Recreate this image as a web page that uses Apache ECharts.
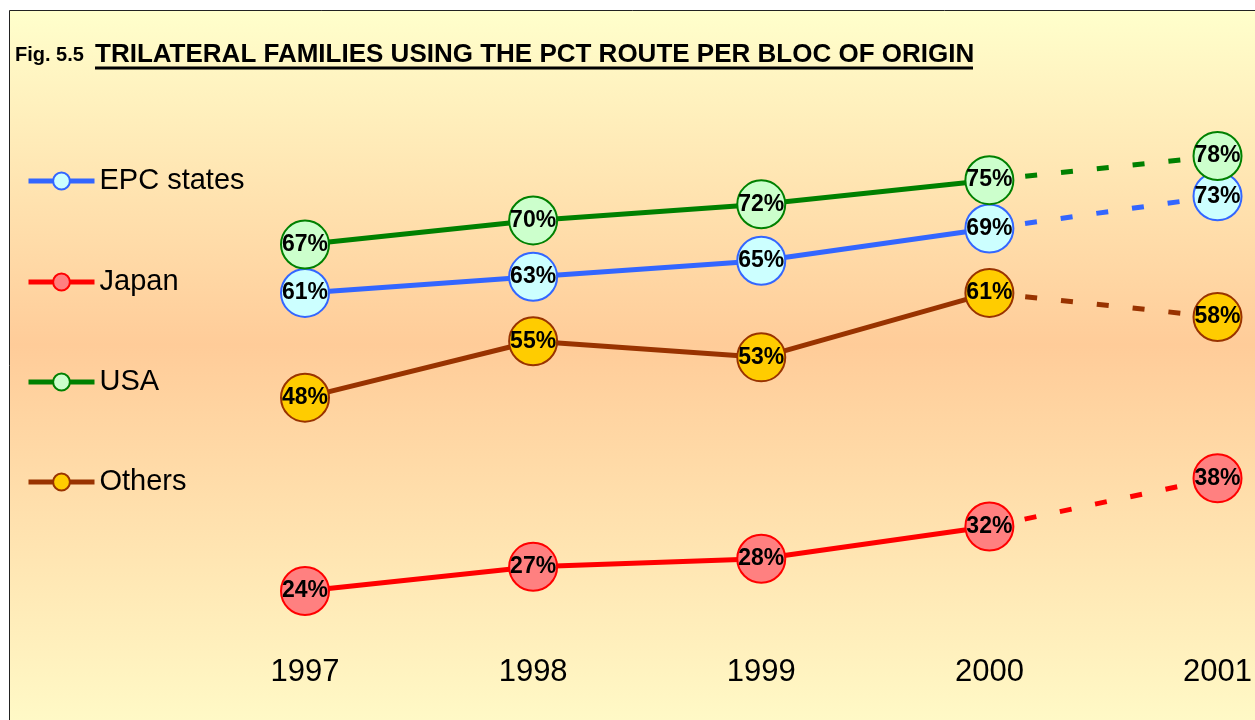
<!DOCTYPE html>
<html>
<head>
<meta charset="utf-8">
<script src="https://cdn.jsdelivr.net/npm/echarts@6/dist/echarts.min.js"></script>
<style>
html,body{margin:0;padding:0;background:#fff;}
#chart{width:1255px;height:720px;}
</style>
</head>
<body>
<div id="chart"></div>
<script>
const years = ['1997', '1998', '1999', '2000', '2001'];
const seriesNames = ['EPC states', 'Japan', 'USA', 'Others'];
const epcValues = [61, 63, 65, 69, 73];
const japanValues = [24, 27, 28, 32, 38];
const usaValues = [67, 70, 72, 75, 78];
const othersValues = [48, 55, 53, 61, 58];
const lineColors = ['#3366FF', '#FF0000', '#008000', '#993300'];
const fillColors = ['#CCFFFF', '#FF8080', '#CCFFCC', '#FFCC00'];
const allValues = [epcValues, japanValues, usaValues, othersValues];

const FONT = "'Liberation Sans', Arial, Helvetica, sans-serif";
const chart = echarts.init(document.getElementById('chart'), null, {renderer: 'canvas'});

const labelCfg = {
  show: true, position: 'inside', formatter: '{c}%',
  color: '#000', fontFamily: FONT, fontWeight: 'bold', fontSize: 23
};

const series = [];
const legends = [];
const legendCenters = [181, 282, 382, 482];
allValues.forEach((vals, i) => {
  const dashed = vals.map((v, j) => {
    if (j < 3) return null;
    if (j === 3) return {value: v, symbol: 'none', label: {show: false}};
    return v;
  });
  series.push({
    name: seriesNames[i] + ' (forecast)', type: 'line', data: dashed, z: 2,
    symbol: 'circle', symbolSize: 48, showAllSymbol: true, connectNulls: false,
    lineStyle: {color: lineColors[i], width: 5, type: [12, 24]},
    itemStyle: {color: fillColors[i], borderColor: lineColors[i], borderWidth: 2},
    label: labelCfg, animation: false, silent: true
  });
});
allValues.forEach((vals, i) => {
  const solid = vals.map((v, j) => j <= 3 ? v : null);
  series.push({
    name: seriesNames[i], type: 'line', data: solid, z: 3,
    symbol: 'circle', symbolSize: 48, showAllSymbol: true, connectNulls: false,
    lineStyle: {color: lineColors[i], width: 5},
    itemStyle: {color: fillColors[i], borderColor: lineColors[i], borderWidth: 2},
    label: labelCfg, animation: false, silent: true
  });
  legends.push({
    data: [seriesNames[i]], left: 26, top: legendCenters[i] - 15, orient: 'vertical',
    itemWidth: 66, itemHeight: 21, itemGap: 0, padding: 0, selectedMode: false,
    lineStyle: {width: 5, color: lineColors[i]},
    itemStyle: {color: fillColors[i], borderColor: lineColors[i], borderWidth: 2},
    textStyle: {fontFamily: FONT, fontSize: 29, color: '#000', lineHeight: 30}
  });
});

chart.setOption({
  animation: false,
  backgroundColor: '#FFFFFF',
  graphic: [
    {type: 'rect', z: -10, shape: {x: 9.5, y: 10.5, width: 1300, height: 760},
     style: {fill: new echarts.graphic.LinearGradient(0, 0, 0, 1, [
       {offset: 0, color: '#FFFFCC'}, {offset: 0.44, color: '#FFCC99'}, {offset: 1, color: '#FFFFCC'}]),
       stroke: '#222', lineWidth: 1}},
    {type: 'text', left: 15, top: 45, z: 10,
     style: {text: 'Fig. 5.5', fontFamily: FONT, fontWeight: 'bold', fontSize: 20, fill: '#000'}},
    {type: 'text', left: 95, top: 42, z: 10,
     style: {text: 'TRILATERAL FAMILIES USING THE PCT ROUTE PER BLOC OF ORIGIN', fontFamily: FONT, fontWeight: 'bold', fontSize: 26, fill: '#000'}},
    {type: 'line', z: 10, shape: {x1: 95, y1: 68, x2: 973, y2: 68}, style: {stroke: '#000', lineWidth: 3}}
  ],
  legend: legends,
  grid: {left: 305, right: 32.7, top: 87.5, bottom: 68.6, containLabel: false},
  xAxis: {
    type: 'category', data: years, boundaryGap: false,
    axisLine: {show: false}, axisTick: {show: false}, splitLine: {show: false},
    axisLabel: {fontFamily: FONT, fontSize: 31, color: '#000', margin: 6}
  },
  yAxis: {
    type: 'value', min: 16.5, max: 86.5, show: false, splitLine: {show: false}
  },
  series: series
});
</script>
</body>
</html>
